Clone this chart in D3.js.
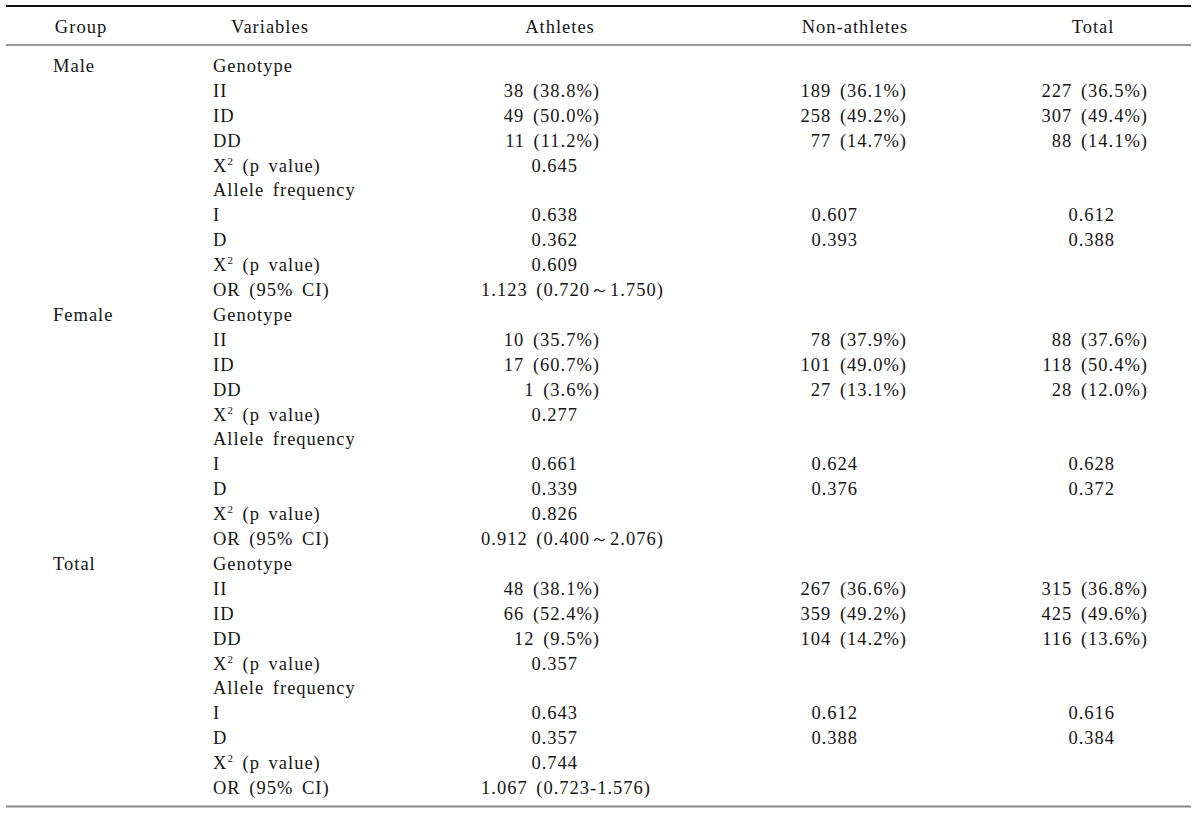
<!DOCTYPE html>
<html>
<head>
<meta charset="utf-8">
<script src="https://cdn.jsdelivr.net/npm/d3@7"></script>
<style>
  body { margin: 0; background: #fff; }
  text { font-family: "Liberation Serif", "Times New Roman", serif; font-size: 18.5px; fill: #151515; letter-spacing: 1px; word-spacing: 3px; }
</style>
</head>
<body>
<div id="table"></div>
<script>
const width = 1200;
const height = 815;

const headers = ['Group', 'Variables', 'Athletes', 'Non-athletes', 'Total'];
const groups = ['Male', 'Female', 'Total'];
const variables = ['Genotype', 'II', 'ID', 'DD', 'X2 (p value)', 'Allele frequency', 'I', 'D', 'X2 (p value)', 'OR (95% CI)'];

// one array per group, same order as variables ('' = empty cell)
const athletes = [
    ['', '38 (38.8%)', '49 (50.0%)', '11 (11.2%)', '0.645', '', '0.638', '0.362', '0.609', '1.123 (0.720～1.750)'],
    ['', '10 (35.7%)', '17 (60.7%)', '1 (3.6%)', '0.277', '', '0.661', '0.339', '0.826', '0.912 (0.400～2.076)'],
    ['', '48 (38.1%)', '66 (52.4%)', '12 (9.5%)', '0.357', '', '0.643', '0.357', '0.744', '1.067 (0.723-1.576)']
];
const nonAthletes = [
    ['', '189 (36.1%)', '258 (49.2%)', '77 (14.7%)', '', '', '0.607', '0.393', '', ''],
    ['', '78 (37.9%)', '101 (49.0%)', '27 (13.1%)', '', '', '0.624', '0.376', '', ''],
    ['', '267 (36.6%)', '359 (49.2%)', '104 (14.2%)', '', '', '0.612', '0.388', '', '']
];
const totals = [
    ['', '227 (36.5%)', '307 (49.4%)', '88 (14.1%)', '', '', '0.612', '0.388', '', ''],
    ['', '88 (37.6%)', '118 (50.4%)', '28 (12.0%)', '', '', '0.628', '0.372', '', ''],
    ['', '315 (36.8%)', '425 (49.6%)', '116 (13.6%)', '', '', '0.616', '0.384', '', '']
];

// column anchors: header centre, count right edge, decimal right edge, CI left edge
const cols = [
    { head: 560, count: 600, dec: 578, ci: 481 },
    { head: 855, count: 907, dec: 858, ci: 760 },
    { head: 1093, count: 1148, dec: 1115, ci: 1000 }
];

let svg = d3.select('#table')
            .append('svg')
            .attr('width', width)
            .attr('height', height);

// rules
svg.append('line').attr('x1', 6).attr('x2', 1191).attr('y1', 6).attr('y2', 6)
    .attr('stroke', '#111').attr('stroke-width', 2);
svg.append('line').attr('x1', 6).attr('x2', 1191).attr('y1', 45).attr('y2', 45)
    .attr('stroke', '#777').attr('stroke-width', 1.5);
svg.append('line').attr('x1', 6).attr('x2', 1191).attr('y1', 806.5).attr('y2', 806.5)
    .attr('stroke', '#888').attr('stroke-width', 2);

// header
const headX = [81, 270].concat(cols.map(c => c.head));
svg.append('g')
    .selectAll('text')
    .data(headers)
    .enter()
    .append('text')
    .attr('x', (d, i) => headX[i])
    .attr('y', 32.5)
    .attr('text-anchor', 'middle')
    .text(d => d);

// rows
let rows = [];
groups.forEach((g, gi) => {
    variables.forEach((v, vi) => {
        rows.push({
            group: vi === 0 ? g : '',
            variable: v,
            values: [athletes[gi][vi], nonAthletes[gi][vi], totals[gi][vi]]
        });
    });
});

const y = d3.scaleLinear().domain([0, rows.length - 1]).range([72, 794]);

let body = svg.append('g');

body.selectAll('text.group')
    .data(rows.filter(d => d.group))
    .enter()
    .append('text')
    .attr('class', 'group')
    .attr('x', 53)
    .attr('y', d => y(rows.indexOf(d)))
    .text(d => d.group);

let vars = body.selectAll('text.var')
    .data(rows)
    .enter()
    .append('text')
    .attr('class', 'var')
    .attr('x', 213)
    .attr('y', (d, i) => y(i));

vars.each(function(d) {
    const t = d3.select(this);
    if (d.variable.startsWith('X2')) {
        t.append('tspan').text('X');
        t.append('tspan').attr('dy', -7).style('font-size', '11px').text('2');
        t.append('tspan').attr('dy', 7).text(d.variable.slice(2));
    } else {
        t.text(d.variable);
    }
});

function kind(s) {
    if (s.indexOf('～') >= 0 || s.indexOf('-') >= 0) return 'ci';
    if (s.indexOf('%') >= 0) return 'count';
    return 'dec';
}

cols.forEach((c, ci) => {
    body.append('g')
        .selectAll('text')
        .data(rows.map((r, i) => ({ v: r.values[ci], i: i })).filter(d => d.v))
        .enter()
        .append('text')
        .attr('x', d => c[kind(d.v)])
        .attr('y', d => y(d.i))
        .attr('text-anchor', d => kind(d.v) === 'ci' ? 'start' : 'end')
        .text(d => d.v);
});
</script>
</body>
</html>
